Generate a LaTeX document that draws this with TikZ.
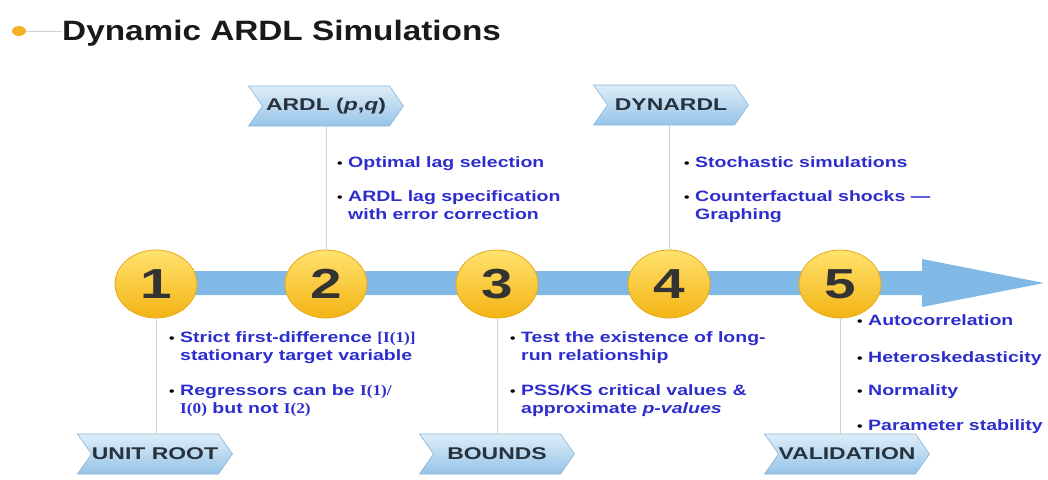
\documentclass[tikz,border=0pt]{standalone}
\usepackage{fontspec}
\setmainfont{Liberation Sans}
\newfontfamily\titlefont[FakeStretch=1.19]{Liberation Sans}
\newfontfamily\tagfont[FakeStretch=1.35]{Liberation Sans}
\newfontfamily\bulfont[FakeStretch=1.3]{Liberation Sans}
\newfontfamily\serfont[FakeStretch=1.15]{Liberation Serif}
\newfontfamily\numfont[FakeStretch=1.35]{Liberation Sans}
\usetikzlibrary{shapes.symbols,shapes.geometric}
\definecolor{bandc}{RGB}{128,185,230}
\definecolor{balltop}{RGB}{255,226,110}
\definecolor{ballbot}{RGB}{243,180,20}
\definecolor{balledge}{RGB}{228,170,30}
\definecolor{tagtop}{RGB}{222,237,248}
\definecolor{tagbot}{RGB}{150,196,232}
\definecolor{tagedge}{RGB}{140,180,215}
\definecolor{tagtext}{RGB}{40,50,60}
\definecolor{bultext}{RGB}{45,45,205}
\definecolor{connc}{RGB}{205,210,215}
\definecolor{dotc}{RGB}{245,178,40}
\newcommand\mybul{\makebox[11pt][l]{\textcolor{black}{\fontsize{12}{12}\selectfont\textbullet}}}
\begin{document}
\begin{tikzpicture}[x=1pt,y=-1pt,
  stepball/.style={ellipse, minimum width=82pt, minimum height=68pt, inner sep=0pt,
    top color=balltop, bottom color=ballbot, draw=balledge, line width=0.8pt,
    text=black!80, font=\numfont\bfseries\fontsize{42}{42}\selectfont},
  tagbox/.style={signal, signal from=west, signal to=east, signal pointer angle=110,
    minimum width=155pt, minimum height=40pt, inner sep=0pt,
    top color=tagtop, bottom color=tagbot, draw=tagedge, line width=0.6pt,
    text=tagtext, font=\tagfont\bfseries\fontsize{17}{20}\selectfont},
  item/.style={anchor=base west, inner sep=0pt, align=left, text=bultext,
    font=\bulfont\bfseries\fontsize{15}{18}\selectfont},
  conn/.style={draw=connc, line width=1pt}
]
\useasboundingbox (0,0) rectangle (1048,479);
% title
\node[ellipse, fill=dotc, minimum width=14pt, minimum height=10pt, inner sep=0pt] (dot) at (19,31) {};
\node[anchor=base west, inner sep=0pt, text=black!90, font=\titlefont\bfseries\fontsize{28}{30}\selectfont] (title) at (62,40) {Dynamic ARDL Simulations};
\draw[conn] (dot.east) -- (title.west |- dot.east);
% arrow band
\fill[bandc] (150,271) -- (922,271) -- (922,259) -- (1044,283) -- (922,307) -- (922,295) -- (150,295) -- cycle;
% circles
\foreach \i/\x in {1/156,2/326,3/497,4/669,5/840}
  \node[stepball] (c\i) at (\x,284) {\i};
% tags
\node[tagbox] (t2) at (326,106) {ARDL (\textit{p},\textit{q})};
\node[tagbox] (t4) at (671,105) {DYNARDL};
\node[tagbox] (t1) at (155,454) {UNIT ROOT};
\node[tagbox] (t3) at (497,454) {BOUNDS};
\node[tagbox, minimum width=165pt] (t5) at (847,454) {VALIDATION};
% connectors
\draw[conn] (c2.north) -- (c2.north |- t2.south);
\draw[conn] (c4.north) -- (c4.north |- t4.south);
\draw[conn] (c1.south) -- (c1.south |- t1.north);
\draw[conn] (c3.south) -- (c3.south |- t3.north);
\draw[conn] (c5.south) -- (c5.south |- t5.north);
% bullet texts (base anchor = baseline of the last line)
\node[item] (a1) at (337,167) {\mybul Optimal lag selection};
\node[item] (a2) at (337,219) {\mybul ARDL lag specification\\\hspace*{11pt}with error correction};
\node[item] (d1) at (684,167) {\mybul Stochastic simulations};
\node[item] (d2) at (684,219) {\mybul Counterfactual shocks —\\\hspace*{11pt}Graphing};
\node[item] (u1) at (169,360) {\mybul Strict first-difference {\serfont [I(1)]}\\\hspace*{11pt}stationary target variable};
\node[item] (u2) at (169,413) {\mybul Regressors can be {\serfont I(1)/}\\\hspace*{11pt}{\serfont I(0)} but not {\serfont I(2)}};
\node[item] (b1) at (510,360) {\mybul Test the existence of long-\\\hspace*{11pt}run relationship};
\node[item] (b2) at (510,413) {\mybul PSS/KS critical values \&\\\hspace*{11pt}approximate \textit{p-values}};
\node[item] (v1) at (857,325) {\mybul Autocorrelation};
\node[item] (v2) at (857,362) {\mybul Heteroskedasticity};
\node[item] (v3) at (857,395) {\mybul Normality};
\node[item] (v4) at (857,430) {\mybul Parameter stability};
\end{tikzpicture}
\end{document}
